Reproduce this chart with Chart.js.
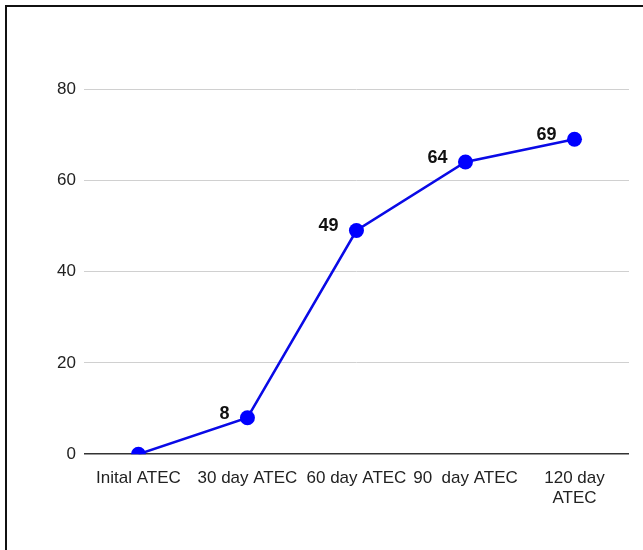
<!DOCTYPE html>
<html>
<head>
<meta charset="utf-8">
<script src="https://cdn.jsdelivr.net/npm/chart.js@4"></script>
<style>
  html, body { margin: 0; padding: 0; background: #fff; }
  #wrap { position: absolute; left: 5px; top: 5px; width: 638px; height: 545px;
          border-left: 2px solid #111; border-top: 2px solid #111; }
  canvas { position: absolute; left: -7px; top: -7px; }
</style>
</head>
<body>
<div id="wrap"><canvas id="myChart" width="643" height="550"></canvas></div>
<script>
  const categories = ['Inital ATEC', '30 day ATEC', '60 day ATEC', '90  day ATEC', ['120 day', 'ATEC']];
  const scores = [0, 8, 49, 64, 69];
  const pointLabels = ['', '8', '49', '64', '69'];
  const yTicks = [0, 20, 40, 60, 80];

  const fontFam = '"Liberation Sans Narrow", "Liberation Sans", Arial, sans-serif';

  // draws the value next to each point
  const valueLabels = {
    id: 'valueLabels',
    afterDatasetsDraw(chart) {
      const ctx = chart.ctx;
      const meta = chart.getDatasetMeta(0);
      ctx.save();
      ctx.font = 'bold 18px ' + fontFam;
      ctx.fillStyle = '#111';
      ctx.textAlign = 'right';
      ctx.textBaseline = 'middle';
      meta.data.forEach(function(pt, i) {
        if (!pointLabels[i]) return;
        ctx.fillText(pointLabels[i], pt.x - 18, pt.y - 4);
      });
      ctx.restore();
    }
  };

  const ctx = document.getElementById('myChart').getContext('2d');
  const myChart = new Chart(ctx, {
    type: 'line',
    data: {
      labels: categories,
      datasets: [{
        data: scores,
        borderColor: '#0a0ae6',
        backgroundColor: '#0000ff',
        borderWidth: 2.5,
        pointRadius: 7.5,
        pointBorderWidth: 0,
        tension: 0
      }]
    },
    options: {
      responsive: false,
      animation: false,
      layout: { padding: { top: 89, right: 14, bottom: 35, left: 49 } },
      plugins: { legend: { display: false }, tooltip: { enabled: false } },
      scales: {
        x: {
          offset: true,
          grid: { display: false },
          border: { display: false },
          ticks: {
            color: '#222',
            font: { family: fontFam, size: 17 },
            maxRotation: 0,
            autoSkip: false,
            padding: 6
          }
        },
        y: {
          min: 0,
          max: 80,
          afterBuildTicks(axis) { axis.ticks = yTicks.map(v => ({ value: v })); },
          grid: {
            color: ctx => ctx.tick.value === 0 ? '#333' : '#d0d0d0',
            lineWidth: ctx => ctx.tick.value === 0 ? 1.5 : 1,
            drawTicks: false
          },
          border: { display: false },
          ticks: {
            color: '#222',
            font: { family: fontFam, size: 17 },
            padding: 8
          }
        }
      }
    },
    plugins: [valueLabels]
  });
</script>
</body>
</html>
